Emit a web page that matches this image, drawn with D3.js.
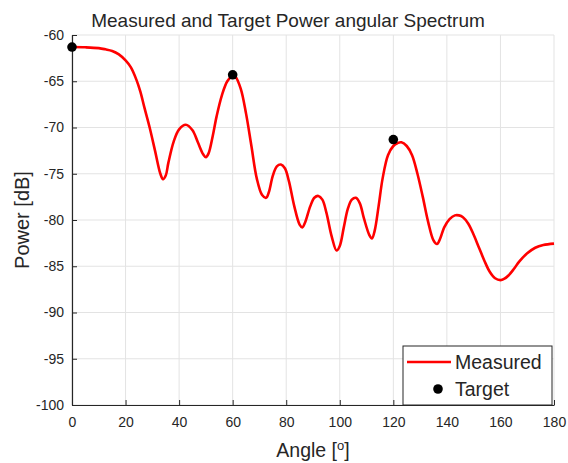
<!DOCTYPE html>
<html>
<head>
<meta charset="utf-8">
<script src="https://cdn.jsdelivr.net/npm/d3@7"></script>
<style>
  body { margin: 0; background: #fff; }
  text { font-family: "Liberation Sans", Arial, sans-serif; fill: #262626; }
</style>
</head>
<body>
<div id="chart"></div>
<script>
const width = 568;
const height = 463;

// measured spectrum (angle in deg, power in dB)
const angles = [0, 5, 10, 12.5, 15, 17.5, 20, 22, 24, 25.5, 27, 29, 31, 33, 34, 35, 36, 38, 40, 42.5, 45, 47,
  49, 50, 51, 52.5, 54, 56, 58, 60, 61, 63, 65, 67, 69, 71, 72.5, 73.5, 75, 76.5, 78, 79.5, 81, 83, 85,
  86, 87, 89, 90.5, 92, 93.5, 95, 97, 98.8, 100, 101.5, 103, 104.5, 106, 107.5, 109, 111, 112, 113,
  114.5, 116, 118, 120, 121.5, 123, 125, 127, 129, 131, 133, 135, 136.3, 137.5, 139, 141, 143, 144.5,
  146, 148, 150, 152, 154, 156, 158, 160, 161.5, 163, 165, 167, 170, 173, 176, 180];
const measured = [-61.3, -61.33, -61.42, -61.55, -61.72, -62.1, -62.75, -63.5, -64.8, -66.1, -67.8, -70.0,
  -72.5, -75.0, -75.6, -75.2, -73.8, -71.5, -70.2, -69.7, -70.3, -71.6, -72.9, -73.2, -72.8, -71.0,
  -68.8, -66.5, -65.0, -64.4, -64.5, -65.8, -68.5, -72.0, -75.5, -77.3, -77.6, -77.0, -75.2, -74.2,
  -74.0, -74.4, -75.8, -78.5, -80.5, -80.8, -80.3, -78.5, -77.6, -77.4, -77.8, -79.2, -81.8, -83.3,
  -82.8, -80.8, -78.8, -77.8, -77.6, -78.2, -79.8, -81.6, -82.0, -81.2, -78.5, -75.5, -73.0, -72.0,
  -71.7, -71.6, -72.0, -73.0, -75.0, -77.5, -80.2, -82.2, -82.6, -82.0, -80.8, -79.9, -79.5, -79.5,
  -79.7, -80.4, -81.6, -83.0, -84.4, -85.6, -86.3, -86.5, -86.35, -86.0, -85.3, -84.5, -83.6, -83.0,
  -82.7, -82.55];

const targetAngles = [0, 60, 120];
const targetPower = [-61.3, -64.3, -71.3];

const xTicks = [0, 20, 40, 60, 80, 100, 120, 140, 160, 180];
const yTicks = [-100, -95, -90, -85, -80, -75, -70, -65, -60];

const margin = {top: 35, right: 14, bottom: 58, left: 72};

const svg = d3.select("#chart").append("svg")
    .attr("width", width)
    .attr("height", height);

const x = d3.scaleLinear().domain([0, 180]).range([margin.left, width - margin.right]);
const y = d3.scaleLinear().domain([-100, -60]).range([height - margin.bottom, margin.top]);

// grid
svg.append("g")
    .selectAll("line")
    .data(xTicks)
    .enter().append("line")
    .attr("x1", d => x(d)).attr("x2", d => x(d))
    .attr("y1", y(-100)).attr("y2", y(-60))
    .attr("stroke", "#e3e3e3");
svg.append("g")
    .selectAll("line")
    .data(yTicks)
    .enter().append("line")
    .attr("x1", x(0)).attr("x2", x(180))
    .attr("y1", d => y(d)).attr("y2", d => y(d))
    .attr("stroke", "#e3e3e3");

// axes, ticks pointing inward like matlab
const xAxis = svg.append("g")
    .attr("transform", `translate(0,${y(-100)})`)
    .call(d3.axisBottom(x).tickValues(xTicks).tickSizeInner(-5).tickSizeOuter(0).tickPadding(12));
const yAxis = svg.append("g")
    .attr("transform", `translate(${x(0)},0)`)
    .call(d3.axisLeft(y).tickValues(yTicks).tickSizeInner(-5).tickSizeOuter(0).tickPadding(8)
      .tickFormat(d3.format("d")));

[xAxis, yAxis].forEach(g => {
    g.select(".domain").attr("stroke", "#262626").attr("stroke-width", 1.2);
    g.selectAll(".tick line").attr("stroke", "#262626");
    g.selectAll("text").attr("font-size", 14).attr("fill", "#262626")
      .attr("font-family", "Liberation Sans, Arial, sans-serif");
});
yAxis.selectAll("text").text(d => String(d).replace("\u2212", "-"));

// measured curve
const line = d3.line()
    .x((d, i) => x(angles[i]))
    .y(d => y(d))
    .curve(d3.curveCatmullRom.alpha(0.5));

svg.append("path")
    .datum(measured)
    .attr("d", line)
    .attr("fill", "none")
    .attr("stroke", "#ff0000")
    .attr("stroke-width", 2.6);

// target points
svg.append("g")
    .selectAll("circle")
    .data(targetPower)
    .enter().append("circle")
    .attr("cx", (d, i) => x(targetAngles[i]))
    .attr("cy", d => y(d))
    .attr("r", 4.8)
    .attr("fill", "#000");

// title and labels
svg.append("text")
    .attr("x", 288)
    .attr("y", 27)
    .attr("text-anchor", "middle")
    .attr("font-size", 19)
    .attr("fill", "#000")
    .text("Measured and Target Power angular Spectrum");

const xl = svg.append("text")
    .attr("x", (x(0) + x(180)) / 2)
    .attr("y", 457)
    .attr("text-anchor", "middle")
    .attr("font-size", 19.5);
xl.append("tspan").text("Angle [");
xl.append("tspan").attr("font-size", 13).attr("dy", -7).text("o");
xl.append("tspan").attr("dy", 7).text("]");

svg.append("text")
    .attr("transform", `translate(29,${(y(-60) + y(-100)) / 2}) rotate(-90)`)
    .attr("text-anchor", "middle")
    .attr("font-size", 20)
    .text("Power [dB]");

// legend
const lg = svg.append("g");
lg.append("rect")
    .attr("x", 403).attr("y", 346)
    .attr("width", 149).attr("height", y(-100) - 346)
    .attr("fill", "#fff")
    .attr("stroke", "#262626")
    .attr("stroke-width", 1);
lg.append("line")
    .attr("x1", 407).attr("x2", 451)
    .attr("y1", 362).attr("y2", 362)
    .attr("stroke", "#ff0000").attr("stroke-width", 2.6);
lg.append("circle")
    .attr("cx", 438).attr("cy", 389).attr("r", 4.8).attr("fill", "#000");
lg.append("text").attr("x", 455).attr("y", 369).attr("font-size", 19.5).attr("fill", "#000").text("Measured");
lg.append("text").attr("x", 455).attr("y", 396).attr("font-size", 19.5).attr("fill", "#000").text("Target");
</script>
</body>
</html>
